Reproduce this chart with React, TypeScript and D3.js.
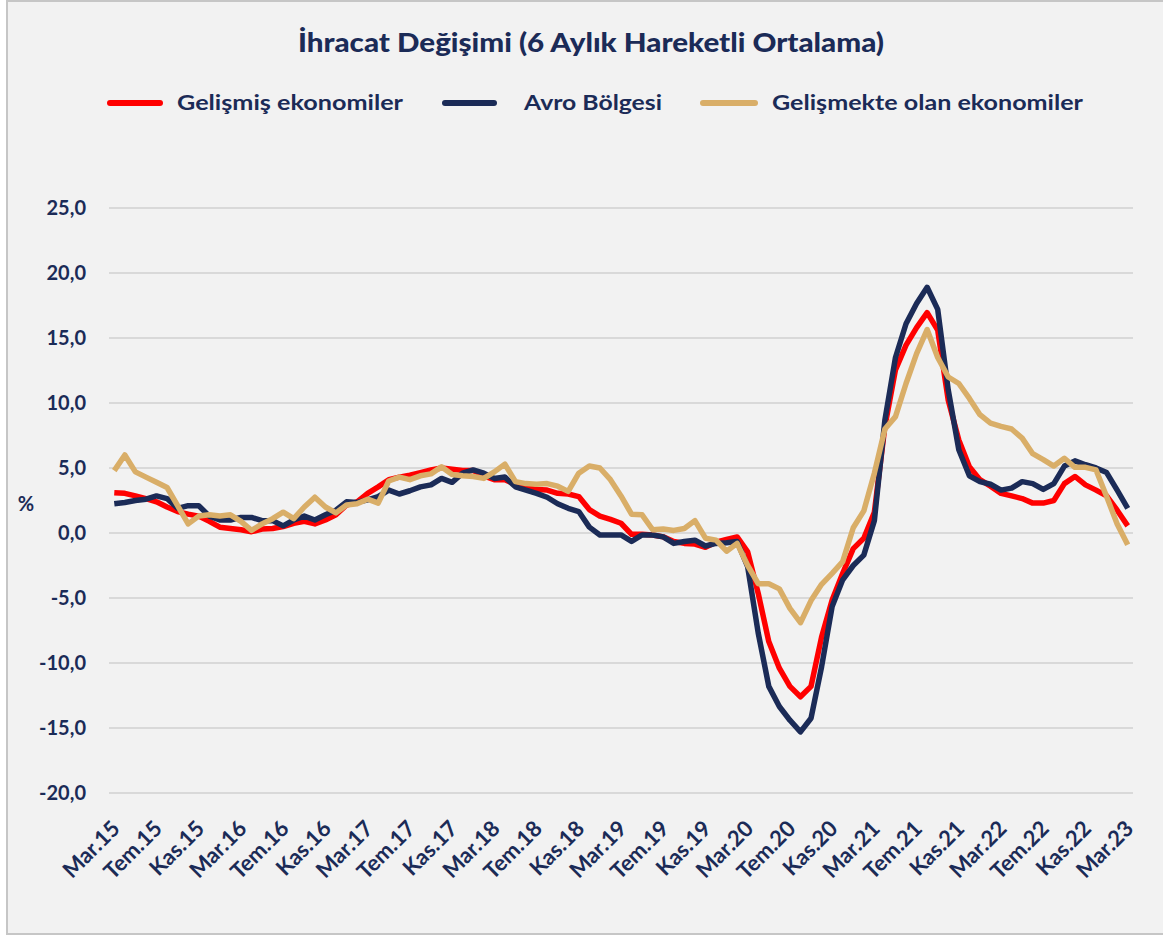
import React from 'react';
import * as d3 from 'd3';

// month abbreviations (Turkish), first point is Mar.15, last Mar.23
const monthNames = ["Oca", "Şub", "Mar", "Nis", "May", "Haz", "Tem", "Ağu", "Eyl", "Eki", "Kas", "Ara"];
const startMonth = 2;
const startYear = 15;
const monthCount = 97;

const categories: string[] = d3.range(monthCount).map(i => {
  const m = (startMonth + i) % 12;
  const y = startYear + Math.floor((startMonth + i) / 12);
  return `${monthNames[m]}.${y}`;
});

// every 4th month is labelled
const tickLabels = categories.filter((_, i) => i % 4 === 0);

const yTicks = [25, 20, 15, 10, 5, 0, -5, -10, -15, -20];

const gelismis = [
  3.1, 3.05, 2.85, 2.65, 2.4, 2.0, 1.65, 1.45, 1.3, 0.9,
  0.45, 0.35, 0.25, 0.1, 0.3, 0.35, 0.5, 0.75, 0.9, 0.7,
  1.0, 1.4, 2.15, 2.4, 3.05, 3.55, 4.1, 4.3, 4.45, 4.65,
  4.85, 5.0, 4.9, 4.8, 4.8, 4.4, 4.1, 4.1, 3.75, 3.5,
  3.35, 3.3, 3.05, 3.0, 2.8, 1.8, 1.3, 1.05, 0.75, -0.1,
  -0.1, -0.15, -0.3, -0.65, -0.8, -0.85, -1.1, -0.7, -0.5, -0.3,
  -1.45, -4.65, -8.35, -10.4, -11.8, -12.6, -11.8, -8.0, -5.15, -3.1,
  -1.2, -0.4, 1.6, 8.2, 12.55, 14.45, 15.8, 16.95, 15.6, 10.2,
  7.15, 5.1, 4.1, 3.6, 3.05, 2.85, 2.65, 2.3, 2.3, 2.5,
  3.8, 4.35, 3.7, 3.3, 2.85, 1.75, 0.55,
];

const avro = [
  2.25, 2.35, 2.5, 2.6, 2.85, 2.65, 1.9, 2.1, 2.1, 1.3,
  1.0, 1.0, 1.2, 1.2, 0.95, 0.95, 0.55, 1.0, 1.3, 1.0,
  1.4, 1.75, 2.4, 2.35, 2.55, 2.8, 3.3, 3.0, 3.25, 3.55,
  3.7, 4.2, 3.9, 4.6, 4.85, 4.6, 4.2, 4.3, 3.55, 3.3,
  3.05, 2.75, 2.25, 1.9, 1.65, 0.45, -0.15, -0.15, -0.15, -0.65,
  -0.15, -0.15, -0.3, -0.8, -0.65, -0.55, -1.0, -0.8, -0.75, -0.65,
  -2.6, -7.7, -11.8, -13.35, -14.4, -15.3, -14.25, -10.3, -5.65, -3.6,
  -2.5, -1.7, 0.95, 8.7, 13.5, 16.1, 17.65, 18.9, 17.2, 11.0,
  6.4, 4.4, 3.95, 3.75, 3.3, 3.45, 3.95, 3.8, 3.35, 3.8,
  5.15, 5.55, 5.25, 5.0, 4.65, 3.3, 1.9,
];

const gelismekte = [
  4.8, 6.0, 4.7, 4.3, 3.9, 3.5, 2.1, 0.7, 1.3, 1.4,
  1.3, 1.4, 0.9, 0.2, 0.7, 1.1, 1.6, 1.1, 2.0, 2.75,
  2.0, 1.55, 2.15, 2.25, 2.6, 2.3, 4.0, 4.3, 4.1, 4.4,
  4.55, 5.1, 4.5, 4.4, 4.35, 4.2, 4.7, 5.3, 3.95, 3.8,
  3.75, 3.8, 3.6, 3.2, 4.6, 5.15, 5.0, 4.1, 2.85, 1.45,
  1.4, 0.25, 0.3, 0.2, 0.35, 0.95, -0.4, -0.55, -1.4, -0.8,
  -2.5, -3.9, -3.9, -4.3, -5.8, -6.9, -5.2, -3.95, -3.1, -2.2,
  0.4, 1.7, 4.6, 8.0, 8.95, 11.5, 13.8, 15.65, 13.5, 12.0,
  11.5, 10.35, 9.1, 8.45, 8.2, 8.0, 7.3, 6.1, 5.65, 5.15,
  5.75, 5.05, 5.05, 4.85, 2.8, 0.7, -0.9,
];

const series = [
  { name: "Gelişmiş ekonomiler", values: gelismis, color: "#ff0000" },
  { name: "Avro Bölgesi", values: avro, color: "#1b2b57" },
  { name: "Gelişmekte olan ekonomiler", values: gelismekte, color: "#d9ae68" },
];

const W = 1163;
const H = 939;
const textColor = "#1b2b57";
const font = "Lato, 'Open Sans', sans-serif";

const App: React.FC = () => {
  const x = d3.scalePoint<string>()
    .domain(categories)
    .range([109, 1133])
    .padding(0.5);

  const y = d3.scaleLinear()
    .domain([-20, 25])
    .range([793, 208]);

  const line = d3.line<number>()
    .x((_, i) => x(categories[i]) as number)
    .y(v => y(v));

  // legend layout: [line x1, line x2, text x, text width]
  const legendPos = [
    [110, 160, 177, 226],
    [445, 494, 524, 138],
    [703, 755, 772, 311],
  ];

  return (
    <svg width={W} height={H} style={{ position: "absolute", left: 0, top: 0 }}>
      <rect x={0} y={0} width={W} height={H} fill="#ffffff" />
      <rect x={7} y={1} width={W + 4} height={933} fill="#f2f2f2" stroke="#c6c6c6" strokeWidth={2} />

      {/* title */}
      <text x={591} y={52} textAnchor="middle" fontFamily={font} fontWeight={900}
        fontSize={26} fill={textColor} textLength={586} lengthAdjust="spacingAndGlyphs">
        İhracat Değişimi (6 Aylık Hareketli Ortalama)
      </text>

      {/* legend */}
      {series.map((s, i) => {
        const [x1, x2, tx, tw] = legendPos[i];
        return (
          <g key={s.name}>
            <line x1={x1} x2={x2} y1={103} y2={103} stroke={s.color} strokeWidth={6} strokeLinecap="round" />
            <text x={tx} y={110} fontFamily={font} fontWeight={700} fontSize={21}
              fill={textColor} textLength={tw} lengthAdjust="spacingAndGlyphs">{s.name}</text>
          </g>
        );
      })}

      {/* grid + y labels */}
      {yTicks.map(t => (
        <g key={t}>
          <line x1={109} x2={1133} y1={y(t)} y2={y(t)} stroke="#d9d9d9" strokeWidth={2} />
          <text x={86} y={y(t)} dy="0.35em" textAnchor="end" fontFamily={font} fontWeight={700}
            fontSize={20} fill={textColor}>{d3.format(".1f")(t).replace(".", ",").replace("−", "-")}</text>
        </g>
      ))}
      <text x={26} y={504} dy="0.35em" textAnchor="middle" fontFamily={font} fontWeight={700}
        fontSize={20} fill={textColor}>%</text>

      {/* x labels */}
      {tickLabels.map(c => {
        const px = x(c) as number;
        return (
          <text key={c} transform={`translate(${px + 7},${830}) rotate(-45)`} textAnchor="end"
            fontFamily={font} fontWeight={700} fontSize={22} fill={textColor}>{c}</text>
        );
      })}

      {/* series */}
      {series.map(s => (
        <path key={s.name} d={line(s.values) || ""} fill="none" stroke={s.color}
          strokeWidth={5.5} strokeLinejoin="round" />
      ))}
    </svg>
  );
};

export default App;
